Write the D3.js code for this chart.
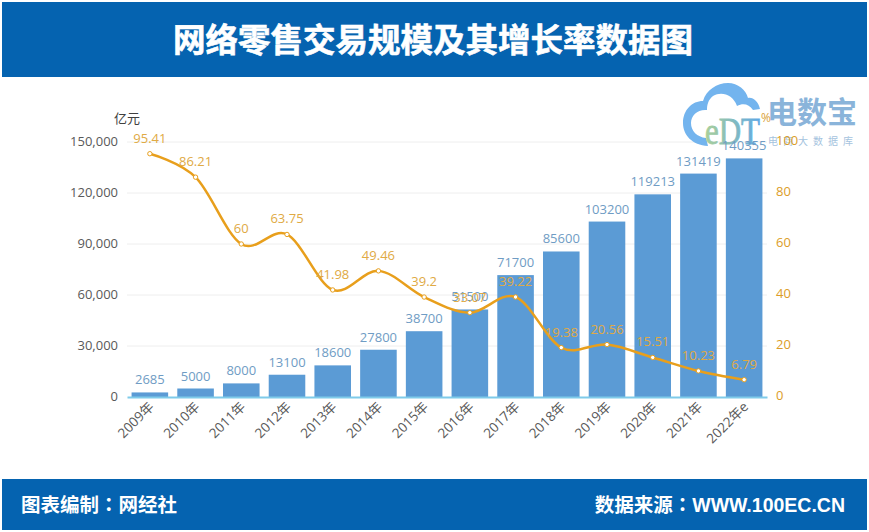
<!DOCTYPE html>
<html>
<head>
<meta charset="utf-8">
<script src="https://cdn.jsdelivr.net/npm/d3@7"></script>
<style>
  html, body { margin: 0; padding: 0; background: #fff; }
  text { font-family: "Liberation Sans", "Noto Sans CJK SC", sans-serif; }
  .cjk { font-family: "Noto Sans CJK SC", sans-serif; }
  .num { font-family: "Open Sans", "Noto Sans CJK SC", sans-serif; }
  .colon { font-family: "Noto Sans CJK TC", sans-serif; }
</style>
</head>
<body>
<div id="chart"></div>
<script>
const years = ["2009年", "2010年", "2011年", "2012年", "2013年", "2014年", "2015年",
  "2016年", "2017年", "2018年", "2019年", "2020年", "2021年", "2022年e"];
const scaleValues = [2685, 5000, 8000, 13100, 18600, 27800, 38700,
  51500, 71700, 85600, 103200, 119213, 131419, 140355];
const growthValues = [95.41, 86.21, 60, 63.75, 41.98, 49.46, 39.2,
  33.07, 39.22, 19.38, 20.56, 15.51, 10.23, 6.79];
const leftTicks = [0, 30000, 60000, 90000, 120000, 150000];
const rightTicks = [0, 20, 40, 60, 80, 100];

const width = 869, height = 532;
const blue = "#0563b0", barColor = "#5b9bd5", lineColor = "#e89f1c";

const svg = d3.select("#chart").append("svg")
  .attr("width", width)
  .attr("height", height)
  .style("display", "block");

// banners
svg.append("rect").attr("x", 2).attr("y", 2).attr("width", 865).attr("height", 75).attr("fill", blue);
svg.append("rect").attr("x", 2).attr("y", 479).attr("width", 865).attr("height", 51).attr("fill", blue);
svg.append("text").attr("class", "cjk").attr("x", 433).attr("y", 52).attr("text-anchor", "middle")
  .attr("fill", "#fff").attr("stroke", "#fff").attr("stroke-width", 0.6)
  .attr("font-size", 32.5).attr("font-weight", 700)
  .text("网络零售交易规模及其增长率数据图");

// the colon sits centred in the original, the TC font draws it that way
function footer(xPos, anchor, before, after) {
  const t = svg.append("text").attr("x", xPos).attr("y", 512).attr("text-anchor", anchor)
    .attr("fill", "#fff").attr("font-size", 19.5).attr("font-weight", 700);
  t.append("tspan").text(before);
  t.append("tspan").attr("class", "colon").text("：");
  t.append("tspan").text(after);
}
footer(21, "start", "图表编制", "网经社");
footer(845, "end", "数据来源", "WWW.100EC.CN");

const x = d3.scaleBand().domain(years).range([127, 767]).paddingInner(0.2).paddingOuter(0.1);
const yLeft = d3.scaleLinear().domain([0, 150000]).range([397, 142]);
const yRight = d3.scaleLinear().domain([0, 100]).range([397, 142]);
const cx = (i) => x(years[i]) + x.bandwidth() / 2;

// gridlines
svg.append("g").selectAll("line").data(leftTicks.slice(1)).join("line")
  .attr("x1", 127).attr("x2", 767)
  .attr("y1", (d) => yLeft(d)).attr("y2", (d) => yLeft(d))
  .attr("stroke", "#eeeeee");

// logo, sits under the bars and labels
const grad = svg.append("defs").append("linearGradient").attr("id", "edt");
grad.append("stop").attr("offset", "0%").attr("stop-color", "#a9cf9a");
grad.append("stop").attr("offset", "100%").attr("stop-color", "#5fa8e4");

const logo = svg.append("g");
logo.append("path")
  .attr("d", "M708 146 C692 145 683 135 683 123 C683 110 692 101 703 101 C706 90 717 83 728 83 C738 83 746 90 748 98 C753 97 758 101 760 109 L753 110 C749 104 743 103 737 106 C733 95 722 91 713 96 C708 100 707 105 707 110 C698 109 691 115 691 123 C691 131 697 137 706 138 Z")
  .attr("fill", "#73b4ee");
logo.append("text").attr("x", 705).attr("y", 144)
  .attr("font-size", 38)
  .attr("textLength", 55).attr("lengthAdjust", "spacingAndGlyphs")
  .style("font-family", "Liberation Serif")
  .attr("fill", "url(#edt)").attr("stroke", "url(#edt)").attr("stroke-width", 0.8).text("eDT");
logo.append("text").attr("class", "cjk").attr("x", 767).attr("y", 123)
  .attr("font-size", 30).attr("font-weight", 700).attr("fill", "#8ab4da").text("电数宝");
logo.append("text").attr("class", "cjk").attr("x", 768).attr("y", 145)
  .attr("font-size", 10).attr("fill", "#a5c3de").attr("letter-spacing", 5).text("电商大数据库");

// bars
svg.append("g").selectAll("rect").data(scaleValues).join("rect")
  .attr("x", (d, i) => x(years[i]))
  .attr("y", (d) => yLeft(d))
  .attr("width", x.bandwidth())
  .attr("height", (d) => yLeft(0) - yLeft(d))
  .attr("fill", barColor);

// axes
const leftAxis = svg.append("g").attr("transform", "translate(127,0)")
  .call(d3.axisLeft(yLeft).tickValues(leftTicks).tickFormat(d3.format(",")).tickSize(0).tickPadding(9));
leftAxis.select(".domain").remove();
leftAxis.selectAll("text").attr("class", "num").attr("y", -1).attr("font-size", 13).attr("fill", "#595959");

const rightAxis = svg.append("g").attr("transform", "translate(767,0)")
  .call(d3.axisRight(yRight).tickValues(rightTicks).tickSize(0).tickPadding(9));
rightAxis.select(".domain").remove();
rightAxis.selectAll("text").attr("class", "num").attr("y", -2).attr("font-size", 13).attr("fill", "#dc9d28");

const bottomAxis = svg.append("g").attr("transform", "translate(0,397)")
  .call(d3.axisBottom(x).tickSize(0));
bottomAxis.select(".domain").attr("stroke", "#7fcbea").attr("stroke-width", 2);
bottomAxis.selectAll("text")
  .attr("class", "num")
  .attr("font-size", 13.5).attr("fill", "#595959")
  .attr("text-anchor", "end")
  .attr("dx", -4).attr("dy", 8)
  .attr("transform", "rotate(-45)");

svg.append("text").attr("class", "cjk").attr("x", 114).attr("y", 123).attr("font-size", 13).attr("fill", "#404040").text("亿元");
svg.append("text").attr("class", "num").attr("x", 761).attr("y", 122).attr("font-size", 12).attr("fill", "#d9a23a").text("%");

// bar labels
svg.append("g").selectAll("text").data(scaleValues).join("text")
  .attr("class", "num")
  .attr("x", (d, i) => cx(i))
  .attr("y", (d) => yLeft(d) - 8)
  .attr("text-anchor", "middle")
  .attr("font-size", 13)
  .attr("fill", "#6f9cc4")
  .text((d) => d);

// growth line
const line = d3.line()
  .x((d, i) => cx(i))
  .y((d) => yRight(d))
  .curve(d3.curveCardinal.tension(0));

svg.append("path").datum(growthValues)
  .attr("d", line)
  .attr("fill", "none")
  .attr("stroke", lineColor)
  .attr("stroke-width", 2.5);

svg.append("g").selectAll("circle").data(growthValues).join("circle")
  .attr("cx", (d, i) => cx(i))
  .attr("cy", (d) => yRight(d))
  .attr("r", 2.2)
  .attr("fill", "#fff")
  .attr("stroke", lineColor)
  .attr("stroke-width", 1);

svg.append("g").selectAll("text").data(growthValues).join("text")
  .attr("class", "num")
  .attr("x", (d, i) => cx(i))
  .attr("y", (d) => yRight(d) - 11)
  .attr("text-anchor", "middle")
  .attr("font-size", 13)
  .attr("fill", "#e0aa44")
  .text((d) => d);
</script>
</body>
</html>
